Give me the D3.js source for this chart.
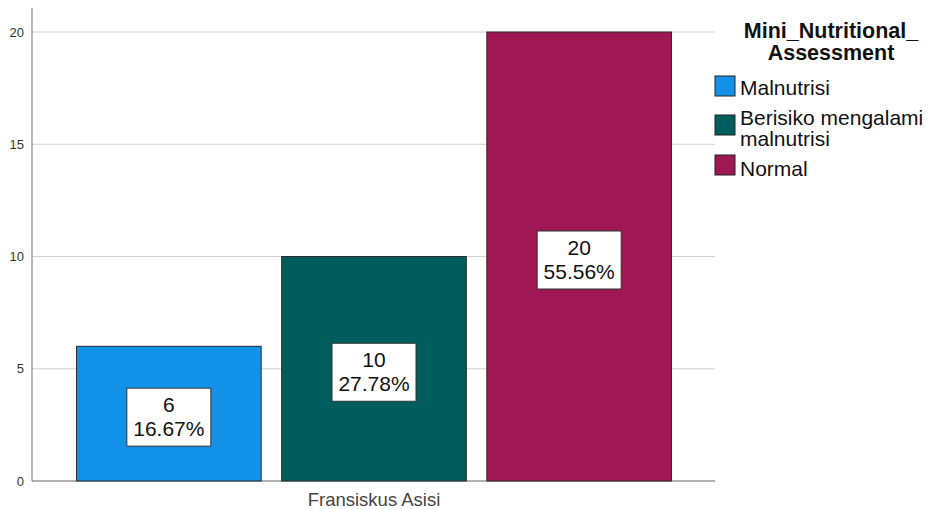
<!DOCTYPE html>
<html><head><meta charset="utf-8">
<script src="https://cdn.jsdelivr.net/npm/d3@7"></script>
<style>body{margin:0;background:#fff}svg{display:block}text{font-family:Arial,"Liberation Sans",sans-serif}</style>
</head><body>
<svg id="c" width="941" height="509"></svg>
<script>
const categories = ["Malnutrisi", "Berisiko mengalami malnutrisi", "Normal"];
const legendLines = [["Malnutrisi"], ["Berisiko mengalami", "malnutrisi"], ["Normal"]];
const counts = [6, 10, 20];
const percents = ["16.67%", "27.78%", "55.56%"];
const colors = ["#1192e8", "#005d5d", "#9f1853"];
const yTicks = [0, 5, 10, 15, 20];
const groupLabel = "Fransiskus Asisi";
const legendTitle = ["Mini_Nutritional_", "Assessment"];

(function () {
const svg = d3.select("#c");
const pl = 32, pr = 715, pt = 8, pb = 481;
const y = d3.scaleLinear().domain([0, 20]).range([pb, 32]);
const x = d3.scaleBand().domain(categories).range([56, 692]).paddingInner(0.1).paddingOuter(0.1);

// gridlines
svg.append("g").selectAll("line").data(yTicks.filter(d => d > 0)).join("line")
  .attr("x1", pl).attr("x2", pr).attr("y1", d => y(d)).attr("y2", d => y(d))
  .attr("stroke", "#cfcfcf").attr("stroke-width", 1);

// y axis
const yAxis = svg.append("g").attr("transform", `translate(${pl},0)`)
  .call(d3.axisLeft(y).tickValues(yTicks).tickSize(0).tickPadding(8));
yAxis.select(".domain").remove();
yAxis.selectAll("text").attr("font-size", 13).attr("fill", "#333");
svg.append("line").attr("x1", pl).attr("x2", pl).attr("y1", pt).attr("y2", pb)
  .attr("stroke", "#888").attr("stroke-width", 1.2);
svg.append("line").attr("x1", pl).attr("x2", pr).attr("y1", pb).attr("y2", pb)
  .attr("stroke", "#666").attr("stroke-width", 1.2);

// bars
svg.append("g").selectAll("rect").data(categories).join("rect")
  .attr("x", d => x(d)).attr("width", x.bandwidth())
  .attr("y", (d, i) => y(counts[i])).attr("height", (d, i) => pb - y(counts[i]))
  .attr("fill", (d, i) => colors[i]).attr("stroke", "#2a2a2a").attr("stroke-width", 1);

// value labels
const lab = svg.append("g").selectAll("g").data(categories).join("g")
  .attr("transform", (d, i) => `translate(${x(d) + x.bandwidth() / 2},${(y(counts[i]) + pb) / 2 + 3.5})`);
lab.append("rect").attr("x", -42).attr("y", -29).attr("width", 84).attr("height", 58)
  .attr("fill", "#fff").attr("stroke", "#333").attr("stroke-width", 1);
lab.append("text").attr("text-anchor", "middle").attr("y", -5).attr("font-size", 21).attr("fill", "#111")
  .text((d, i) => counts[i]);
lab.append("text").attr("text-anchor", "middle").attr("y", 18.5).attr("font-size", 21).attr("fill", "#111")
  .text((d, i) => percents[i]);

// x category label
svg.append("text").attr("x", (x(categories[0]) + x(categories[2]) + x.bandwidth()) / 2).attr("y", 506)
  .attr("text-anchor", "middle").attr("font-size", 18.5).attr("fill", "#444").text(groupLabel);

// legend
const lg = svg.append("g");
lg.selectAll("text.t").data(legendTitle).join("text").attr("class", "t")
  .attr("x", 831).attr("y", (d, i) => 38 + i * 22).attr("text-anchor", "middle")
  .attr("font-size", 21.5).attr("font-weight", "bold").attr("fill", "#111").text(d => d);
const swY = [76, 115, 155];
const txtY = [[95], [125, 146], [176]];
const items = lg.selectAll("g.i").data(categories).join("g").attr("class", "i");
items.append("rect").attr("x", 715).attr("y", (d, i) => swY[i]).attr("width", 20).attr("height", 20)
  .attr("fill", (d, i) => colors[i]).attr("stroke", "#222").attr("stroke-width", 1);
items.each(function (d, i) {
  const g = d3.select(this);
  legendLines[i].forEach((ln, j) => {
    g.append("text").attr("x", 740).attr("y", txtY[i][j])
      .attr("font-size", 21).attr("fill", "#111").text(ln);
  });
});
})();
</script>
</body></html>
